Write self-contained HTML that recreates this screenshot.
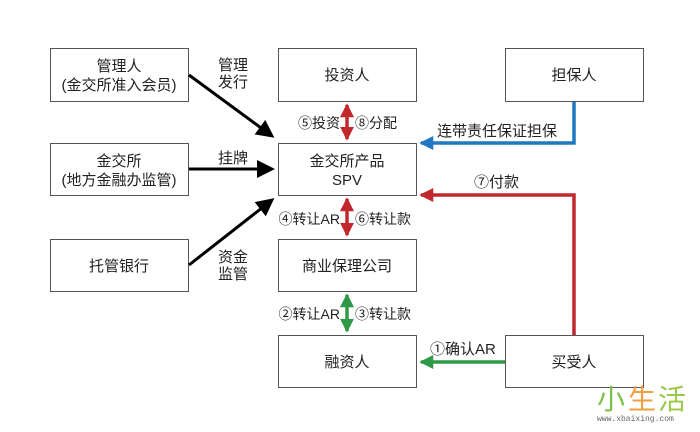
<!DOCTYPE html>
<html><head><meta charset="utf-8"><style>
body{margin:0;background:#fff;}
svg text{font-family:"Liberation Sans","Noto Sans CJK SC",sans-serif;font-size:15px;fill:#222;}
</style></head><body>
<svg width="700" height="427" viewBox="0 0 700 427" xmlns="http://www.w3.org/2000/svg">
<defs>
<marker id="ak" markerWidth="6" markerHeight="6" refX="5" refY="3" orient="auto" markerUnits="strokeWidth"><path d="M0,0 L6,3 L0,6 z" fill="#000"/></marker>
<marker id="ar" markerWidth="4" markerHeight="4" refX="3.5" refY="2" orient="auto-start-reverse" markerUnits="strokeWidth"><path d="M0,0 L4,2 L0,4 z" fill="#c0282d"/></marker>
<marker id="ag" markerWidth="4" markerHeight="4" refX="3.5" refY="2" orient="auto-start-reverse" markerUnits="strokeWidth"><path d="M0,0 L4,2 L0,4 z" fill="#2e9a48"/></marker>
<marker id="ab" markerWidth="4" markerHeight="4" refX="3.5" refY="2" orient="auto" markerUnits="strokeWidth"><path d="M0,0 L4,2 L0,4 z" fill="#1f78c1"/></marker>
</defs>
<g fill="#fff" stroke="#555" stroke-width="1">
<rect x="50.5" y="48.5" width="138" height="53"/>
<rect x="50.5" y="143.5" width="138" height="52"/>
<rect x="50.5" y="239.5" width="138" height="52"/>
<rect x="278.5" y="48.5" width="138" height="53"/>
<rect x="278.5" y="143.5" width="138" height="52"/>
<rect x="278.5" y="239.5" width="138" height="52"/>
<rect x="278.5" y="335.5" width="138" height="52"/>
<rect x="505.5" y="48.5" width="138" height="53"/>
<rect x="505.5" y="335.5" width="138" height="52"/>
</g>
<g text-anchor="middle">
<text x="119" y="71">管理人</text><text x="119" y="90">(金交所准入会员)</text>
<text x="119" y="166">金交所</text><text x="119" y="185">(地方金融办监管)</text>
<text x="119" y="271">托管银行</text>
<text x="347" y="80">投资人</text>
<text x="347" y="166">金交所产品</text><text x="347" y="185">SPV</text>
<text x="347" y="271">商业保理公司</text>
<text x="347" y="367">融资人</text>
<text x="574" y="80">担保人</text>
<text x="574" y="367">买受人</text>
<text x="233" y="70">管理</text><text x="233" y="87">发行</text>
<text x="233" y="163">挂牌</text>
<text x="233" y="262">资金</text><text x="233" y="279">监管</text>
</g>
<g stroke="#000" stroke-width="3" fill="none">
<line x1="189" y1="75" x2="272" y2="136" marker-end="url(#ak)"/>
<line x1="189" y1="169" x2="272" y2="169" marker-end="url(#ak)"/>
<line x1="189" y1="265" x2="272" y2="200" marker-end="url(#ak)"/>
</g>
<g stroke-width="3.5" fill="none">
<line x1="347" y1="105" x2="347" y2="139" stroke="#c0282d" marker-start="url(#ar)" marker-end="url(#ar)"/>
<line x1="347" y1="199" x2="347" y2="235" stroke="#c0282d" marker-start="url(#ar)" marker-end="url(#ar)"/>
<line x1="347" y1="295" x2="347" y2="331" stroke="#2e9a48" marker-start="url(#ag)" marker-end="url(#ag)"/>
<polyline points="574,102 574,143 421,143" stroke="#1f78c1" marker-end="url(#ab)"/>
<polyline points="574,335 574,195 421,195" stroke="#c0282d" marker-end="url(#ar)"/>
<line x1="505" y1="362" x2="421" y2="362" stroke="#2e9a48" marker-end="url(#ag)"/>
</g>
<g text-anchor="end" style="font-size:14px">
<text x="340" y="128" style="font-size:14px">⑤投资</text>
<text x="340" y="224" style="font-size:14px">④转让AR</text>
<text x="340" y="319" style="font-size:14px">②转让AR</text>
</g>
<text x="355" y="128" style="font-size:14px">⑧分配</text>
<text x="355" y="224" style="font-size:14px">⑥转让款</text>
<text x="355" y="319" style="font-size:14px">③转让款</text>
<text x="437" y="136">连带责任保证担保</text>
<text x="474" y="187">⑦付款</text>
<text x="430" y="354">①确认AR</text>
<text x="597" y="409" style="font-size:28px;fill:#7cc24a">小</text>
<text x="628" y="409" style="font-size:28px;fill:#f0a040">生</text>
<text x="658" y="409" style="font-size:28px;fill:#9cc84a">活</text>
<text x="597" y="421" style="font-size:8px;fill:#666;font-family:'Liberation Mono',monospace">www.xbaixing.com</text>
</svg>
</body></html>
